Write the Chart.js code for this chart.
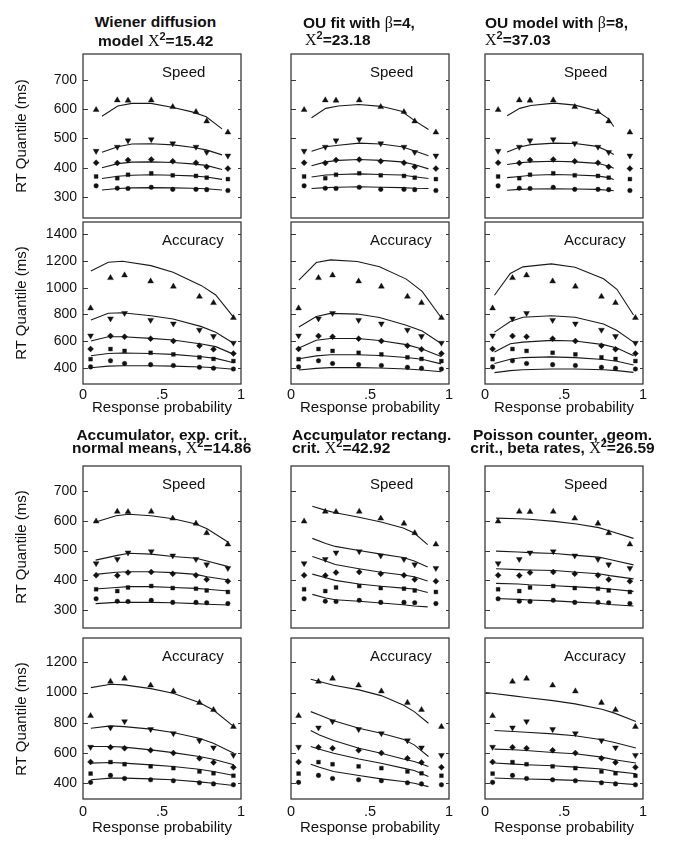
<!DOCTYPE html>
<html><head><meta charset="utf-8">
<script src="https://cdn.jsdelivr.net/npm/chart.js@4.4.1/dist/chart.umd.min.js"></script>
<style>
body{margin:0;background:#fff;}
#wrap{position:relative;width:673px;height:851px;overflow:hidden;font-family:"Liberation Sans",Arial,sans-serif;color:#111;background:#fff;}
.t{position:absolute;font-weight:bold;font-size:15.5px;line-height:16px;white-space:nowrap;}
.chi{font-family:"Liberation Serif","Times New Roman",serif;font-weight:normal;font-size:16px;}
.sup{font-size:11px;position:relative;top:-6px;}
.lab{position:absolute;font-size:15px;line-height:16px;white-space:nowrap;}
canvas{position:absolute;}
</style></head><body><div id="wrap"></div>
<script>
// ---------- observed data (same in every column) ----------
const speedProb = [0.083, 0.217, 0.285, 0.432, 0.568, 0.715, 0.783, 0.917];
const accProb   = [0.048, 0.174, 0.263, 0.428, 0.572, 0.737, 0.826, 0.952];
const speedQ90 = [598, 631, 630, 631, 608, 591, 559, 521];
const speedQ70 = [457, 471, 493, 497, 483, 471, 453, 441];
const speedQ50 = [417, 416, 426, 428, 422, 417, 403, 397];
const speedQ30 = [370, 364, 376, 381, 374, 372, 366, 361];
const speedQ10 = [338, 330, 329, 333, 326, 326, 325, 322];
const accQ90 = [846, 1073, 1093, 1048, 1009, 933, 886, 774];
const accQ70 = [640, 768, 809, 757, 730, 683, 636, 586];
const accQ50 = [541, 638, 632, 618, 600, 565, 538, 506];
const accQ30 = [464, 540, 526, 512, 500, 478, 466, 450];
const accQ10 = [406, 452, 432, 423, 417, 403, 396, 390];

// ---------- tick labels ----------
const xTicks = [0, 0.5, 1];
const xTickLabels = ['0', '.5', '1'];
const speedTicks = [300, 400, 500, 600, 700];
const accTicksTop = [400, 600, 800, 1000, 1200, 1400];
const accTicksBottom = [400, 600, 800, 1000, 1200];

// ---------- model predictions (x = predicted probability; rows = .9,.7,.5,.3,.1 quantiles) ----------
const wienerSpeedX = [0.12, 0.22, 0.31, 0.43, 0.57, 0.69, 0.78, 0.88];
const wienerSpeedFit = [
  [576, 611, 620, 620, 606, 591, 574, 533],
  [453, 472, 481, 482, 478, 470, 461, 444],
  [400, 414, 419, 420, 418, 413, 408, 394],
  [363, 371, 374, 376, 374, 372, 368, 360],
  [324, 329, 331, 332, 331, 330, 328, 324]];
const ou4SpeedX = [0.13, 0.22, 0.30, 0.43, 0.57, 0.70, 0.78, 0.87];
const ou4SpeedFit = [
  [571, 603, 611, 616, 610, 593, 562, 531],
  [456, 472, 477, 484, 481, 472, 458, 441],
  [407, 420, 425, 428, 425, 420, 411, 396],
  [368, 375, 377, 379, 377, 375, 369, 363],
  [329, 332, 333, 335, 333, 332, 330, 329]];
const ou8SpeedX = [0.14, 0.22, 0.29, 0.44, 0.57, 0.71, 0.78, 0.815];
const ou8SpeedFit = [
  [578, 603, 613, 621, 614, 594, 568, 541],
  [454, 471, 479, 484, 483, 473, 456, 445],
  [411, 417, 420, 422, 420, 415, 406, 398],
  [366, 370, 374, 377, 375, 372, 366, 360],
  [323, 326, 327, 328, 327, 326, 323, 321]];
const wienerAccX = [0.05, 0.16, 0.25, 0.43, 0.57, 0.75, 0.84, 0.955];
const wienerAccFit = [
  [1125, 1190, 1198, 1165, 1115, 1015, 945, 775],
  [758, 808, 812, 790, 765, 708, 665, 582],
  [600, 632, 632, 620, 608, 578, 558, 500],
  [490, 507, 510, 507, 500, 482, 470, 437],
  [400, 412, 415, 415, 412, 405, 400, 388]];
const ou4AccX = [0.05, 0.16, 0.25, 0.42, 0.56, 0.73, 0.83, 0.95];
const ou4AccFit = [
  [1056, 1188, 1208, 1196, 1157, 1064, 972, 776],
  [705, 784, 807, 802, 776, 718, 675, 581],
  [548, 606, 619, 619, 604, 573, 540, 484],
  [467, 489, 497, 497, 492, 477, 464, 429],
  [383, 395, 401, 401, 398, 390, 383, 370]];
const ou8AccX = [0.06, 0.16, 0.24, 0.42, 0.57, 0.75, 0.835, 0.94];
const ou8AccFit = [
  [943, 1106, 1156, 1178, 1153, 1067, 988, 795],
  [667, 746, 778, 790, 778, 728, 679, 592],
  [518, 580, 592, 605, 600, 573, 548, 489],
  [432, 464, 476, 481, 476, 462, 449, 420],
  [363, 378, 385, 390, 390, 385, 378, 365]];
const accumExpSpeedX = [0.08, 0.21, 0.29, 0.43, 0.57, 0.715, 0.785, 0.92];
const accumExpSpeedFit = [
  [596, 617, 622, 617, 607, 589, 573, 528],
  [468, 483, 491, 488, 480, 474, 465, 446],
  [420, 427, 429, 429, 426, 420, 412, 401],
  [371, 376, 379, 379, 376, 373, 370, 364],
  [322, 326, 326, 326, 325, 322, 320, 317]];
const accumRectSpeedX = [0.135, 0.22, 0.28, 0.43, 0.57, 0.71, 0.78, 0.865];
const accumRectSpeedFit = [
  [649, 635, 627, 612, 596, 576, 559, 520],
  [541, 524, 514, 500, 488, 477, 465, 445],
  [480, 465, 453, 439, 427, 418, 412, 398],
  [421, 409, 400, 388, 380, 374, 371, 359],
  [353, 341, 335, 330, 324, 318, 314, 311]];
const poissonSpeedX = [0.07, 0.21, 0.28, 0.44, 0.58, 0.72, 0.79, 0.94];
const poissonSpeedFit = [
  [609, 607, 605, 598, 589, 577, 566, 541],
  [498, 495, 493, 490, 484, 478, 470, 452],
  [439, 436, 435, 433, 427, 422, 416, 405],
  [390, 388, 385, 382, 378, 374, 371, 363],
  [339, 336, 334, 331, 327, 323, 319, 314]];
const accumExpAccX = [0.05, 0.175, 0.26, 0.43, 0.57, 0.735, 0.825, 0.955];
const accumExpAccFit = [
  [1033, 1055, 1051, 1026, 996, 934, 885, 775],
  [764, 780, 775, 758, 736, 698, 665, 599],
  [643, 643, 639, 621, 603, 577, 559, 522],
  [533, 537, 533, 522, 511, 493, 478, 451],
  [423, 434, 434, 429, 423, 409, 400, 385]];
const accumRectAccX = [0.125, 0.18, 0.27, 0.43, 0.57, 0.71, 0.78, 0.87];
const accumRectAccFit = [
  [1088, 1073, 1048, 1018, 980, 918, 874, 797],
  [874, 852, 813, 764, 731, 691, 654, 577],
  [749, 720, 683, 632, 599, 561, 544, 511],
  [643, 625, 599, 561, 533, 500, 484, 445],
  [526, 506, 478, 451, 429, 412, 400, 378]];
const poissonAccX = [0.06, 0.18, 0.26, 0.43, 0.57, 0.74, 0.82, 0.955];
const poissonAccTopX = [0.005, 0.18, 0.26, 0.43, 0.57, 0.74, 0.82, 0.955];
const poissonAccFit = [
  [1000, 978, 967, 947, 925, 890, 864, 809],
  [749, 743, 738, 727, 714, 688, 670, 633],
  [626, 622, 617, 604, 595, 573, 556, 534],
  [534, 527, 523, 516, 507, 494, 479, 463],
  [435, 430, 428, 424, 419, 408, 402, 391]];

// ---------- layout ----------
const FONT = '"Liberation Sans", Arial, sans-serif';
const cols = [{l: 83, r: 241}, {l: 291, r: 449}, {l: 485, r: 643}];
const rows = [
  {t: 54,  b: 218, acc: false, min: 228, max: 789,  ticks: speedTicks, label: 'Speed', xpad: 3, lab: 0},
  {t: 222, b: 384, acc: true,  min: 278, max: 1492, ticks: accTicksTop, label: 'Accuracy', xpad: 2, lab: 14.7},
  {t: 466, b: 628, acc: false, min: 240, max: 784,  ticks: speedTicks, label: 'Speed', xpad: 3, lab: 0},
  {t: 638, b: 799, acc: true,  min: 296, max: 1361, ticks: accTicksBottom, label: 'Accuracy', xpad: 4, lab: 19.7}];

const speedObs = [speedQ90, speedQ70, speedQ50, speedQ30, speedQ10];
const accObs = [accQ90, accQ70, accQ50, accQ30, accQ10];
const markers = [
  {pointStyle: 'triangle', pointRotation: 0, pointRadius: 3.4},
  {pointStyle: 'triangle', pointRotation: 180, pointRadius: 3.4},
  {pointStyle: 'rectRot', pointRotation: 0, pointRadius: 3.0},
  {pointStyle: 'rect', pointRotation: 0, pointRadius: 2.7},
  {pointStyle: 'circle', pointRotation: 0, pointRadius: 2.3}];

const panels = [
  {row: 0, col: 0, x: wienerSpeedX, fit: wienerSpeedFit},
  {row: 0, col: 1, x: ou4SpeedX, fit: ou4SpeedFit},
  {row: 0, col: 2, x: ou8SpeedX, fit: ou8SpeedFit},
  {row: 1, col: 0, x: wienerAccX, fit: wienerAccFit},
  {row: 1, col: 1, x: ou4AccX, fit: ou4AccFit},
  {row: 1, col: 2, x: ou8AccX, fit: ou8AccFit},
  {row: 2, col: 0, x: accumExpSpeedX, fit: accumExpSpeedFit},
  {row: 2, col: 1, x: accumRectSpeedX, fit: accumRectSpeedFit},
  {row: 2, col: 2, x: poissonSpeedX, fit: poissonSpeedFit},
  {row: 3, col: 0, x: accumExpAccX, fit: accumExpAccFit},
  {row: 3, col: 1, x: accumRectAccX, fit: accumRectAccFit},
  {row: 3, col: 2, x: poissonAccX, fit: poissonAccFit, topX: poissonAccTopX}];

const wrap = document.getElementById('wrap');

const framePlugin = {
  id: 'frame',
  afterDraw(chart) {
    const {ctx, chartArea: a, scales} = chart;
    ctx.save();
    ctx.strokeStyle = '#3a3a3a';
    ctx.lineWidth = 1.3;
    ctx.strokeRect(a.left, a.top, a.right - a.left, a.bottom - a.top);
    ctx.lineWidth = 1;
    ctx.beginPath();
    scales.y.ticks.forEach(t => {
      const py = Math.round(scales.y.getPixelForValue(t.value)) + 0.5;
      ctx.moveTo(a.left, py); ctx.lineTo(a.left + 5, py);
      ctx.moveTo(a.right, py); ctx.lineTo(a.right - 3, py);
    });
    ctx.stroke();
    ctx.restore();
  }
};

function makePanel(p) {
  const c = cols[p.col], r = rows[p.row];
  const padL = p.col === 0 ? 60 : 16, padR = 16, padT = 24, padB = r.acc ? 34 : 24;
  const W = c.r - c.l, H = r.b - r.t;
  const cv = document.createElement('canvas');
  cv.width = padL + W + padR; cv.height = padT + H + padB;
  cv.style.left = (c.l - padL) + 'px'; cv.style.top = (r.t - padT) + 'px';
  wrap.appendChild(cv);
  const obsX = r.acc ? accProb : speedProb;
  const obs = r.acc ? accObs : speedObs;
  const datasets = [];
  obs.forEach((ys, i) => {
    datasets.push(Object.assign({
      data: ys.map((y, k) => ({x: obsX[k], y})),
      showLine: false,
      backgroundColor: '#111', borderColor: '#111', pointBorderWidth: 0.4,
      pointBackgroundColor: '#111', pointBorderColor: '#111'
    }, markers[i]));
  });
  p.fit.forEach((ys, i) => {
    const xs = (i === 0 && p.topX) ? p.topX : p.x;
    datasets.push({
      data: ys.map((y, k) => ({x: xs[k], y})),
      showLine: true, pointRadius: 0, borderColor: '#1a1a1a', borderWidth: 1.1,
      tension: 0, fill: false
    });
  });
  new Chart(cv, {
    type: 'scatter',
    data: {datasets},
    plugins: [framePlugin],
    options: {
      responsive: false, animation: false, devicePixelRatio: 1,
      layout: {padding: {left: 0, right: padR, top: padT, bottom: 0}},
      plugins: {legend: {display: false}, tooltip: {enabled: false}},
      scales: {
        x: {
          type: 'linear', min: 0, max: 1,
          afterBuildTicks: s => { s.ticks = xTicks.map(v => ({value: v})); },
          afterFit: s => { s.height = padB; },
          ticks: {display: r.acc, autoSkip: false, maxRotation: 0, padding: r.xpad, color: '#111',
            font: {size: 14.5, family: FONT},
            callback: v => xTickLabels[xTicks.indexOf(v)]},
          grid: {display: false, drawTicks: false}, border: {display: false}
        },
        y: {
          type: 'linear', min: r.min, max: r.max,
          afterBuildTicks: s => { s.ticks = r.ticks.map(v => ({value: v})); },
          afterFit: s => { s.width = padL; },
          ticks: {display: p.col === 0, padding: 6, color: '#111', font: {size: 14, family: FONT},
            callback: v => String(v)},
          grid: {display: false, drawTicks: false}, border: {display: false}
        }
      }
    }
  });
}
panels.forEach(makePanel);

// ---------- text ----------
function addDiv(cls, html, css) {
  const d = document.createElement('div');
  d.className = cls; d.innerHTML = html;
  Object.assign(d.style, css);
  wrap.appendChild(d);
  return d;
}
const chi2 = v => '<span class="chi">X</span><span class="sup">2</span>=' + v;
const beta = '<span class="chi">&beta;</span>';
function centered(html, cx, top) { addDiv('t', html, {left: (cx - 150) + 'px', width: '300px', textAlign: 'center', top: top + 'px'}); }
function lefted(html, x, top) { addDiv('t', html, {left: x + 'px', top: top + 'px'}); }

centered('Wiener diffusion', 155.5, 13.9);
centered('model ' + chi2('15.42'), 155.7, 33.3);
lefted('OU fit with ' + beta + '=4,', 303, 14.9);
lefted(chi2('23.18'), 305, 31.6);
lefted('OU model with ' + beta + '=8,', 485, 14.9);
lefted(chi2('37.03'), 485, 31.6);
centered('Accumulator, exp. crit.,', 161.7, 427.3);
centered('normal means, ' + chi2('14.86'), 161.7, 439.9);
lefted('Accumulator rectang.', 292, 427.3);
lefted('crit. ' + chi2('42.92'), 292, 439.9);
centered('Poisson counter, ,geom.', 562.5, 427.3);
centered('crit., beta rates, ' + chi2('26.59'), 562.5, 439.9);

rows.forEach(r => {
  cols.forEach(c => {
    addDiv('lab', r.label, {left: (c.l + 79) + 'px', top: (r.t + 10) + 'px'});
  });
  addDiv('lab', 'RT Quantile (ms)', {left: '21px', top: ((r.t + r.b) / 2) + 'px', transform: 'translate(-50%,-50%) rotate(-90deg)'});
  if (r.acc) {
    cols.forEach(c => {
      addDiv('lab', 'Response probability', {left: ((c.l + c.r) / 2) + 'px', top: (r.b + r.lab) + 'px', transform: 'translateX(-50%)'});
    });
  }
});
</script></body></html>
